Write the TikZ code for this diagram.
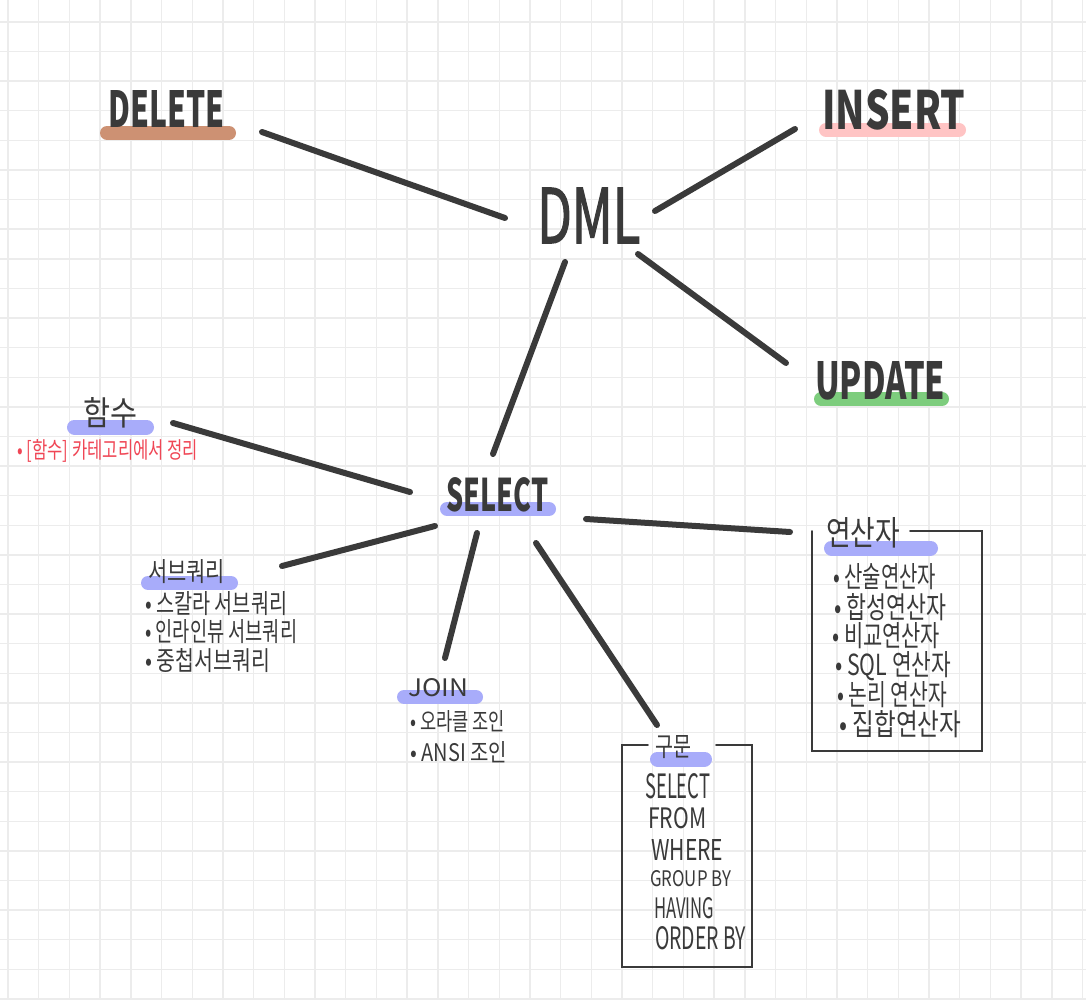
\documentclass[tikz,border=0pt]{standalone}
\usepackage{fontspec}
\setmainfont{Noto Sans CJK KR}
\newfontfamily\dmlfont[FakeBold=2]{Noto Sans CJK KR}
\definecolor{ink}{RGB}{58,58,58}
\definecolor{gridc}{RGB}{236,236,236}
\definecolor{hlbrown}{RGB}{205,145,115}
\definecolor{hlpink}{RGB}{255,196,196}
\definecolor{hlgreen}{RGB}{125,205,125}
\definecolor{hlblue}{RGB}{168,172,250}
\definecolor{redtxt}{RGB}{240,70,85}
\newcommand\hwtext[3]{\resizebox{#1pt}{#2pt}{#3}}
\begin{document}
\begin{tikzpicture}[x=1pt,y=-1pt,
  conn/.style={line width=6pt, draw=ink, line cap=round},
  hl/.style={line width=14pt, line cap=round},
  lbl/.style={inner sep=0pt, anchor=west, text=ink},
  boxline/.style={line width=1.8pt, draw=ink, line cap=round}]
\useasboundingbox[fill=white] (0,0) rectangle (1086,1000);
% grid
\foreach \i in {0,...,35} \draw[gridc, line width=1.4pt] ({8+30.7*\i},0) -- ({8+30.7*\i},1000);
\foreach \j in {0,...,33} \draw[gridc, line width=1.4pt] (0,{22+29.6*\j}) -- (1086,{22+29.6*\j});

% highlight bars
\draw[hl, hlbrown] (107,133) -- (229,133);
\draw[hl, hlpink] (826,130) -- (959,130);
\draw[hl, hlgreen] (821,399) -- (942,399);
\draw[hl, hlblue] (447,509) -- (549,509);
\draw[hl, hlblue, line width=15pt] (74.5,427) -- (146.5,427);
\draw[hl, hlblue] (148,583) -- (231,583);
\draw[hl, hlblue] (404,697) -- (476,697);
\draw[hl, hlblue, line width=15pt] (657.5,759) -- (704.5,759);
\draw[hl, hlblue, line width=15pt] (831.5,548) -- (930.5,548);

% main nodes
\node[lbl] (dml) at (537,215.5) {\hwtext{103}{55}{\dmlfont DML}};
\node[lbl] (delete) at (108,109) {\hwtext{116}{37}{\bfseries DELETE}};
\node[lbl] (insert) at (822,110) {\hwtext{143}{40}{\bfseries INSERT}};
\node[lbl] (update) at (815,381) {\hwtext{130}{38}{\bfseries UPDATE}};
\node[lbl] (select) at (446,495) {\hwtext{102}{34}{\bfseries SELECT}};

% 함수
\node[lbl] (func) at (83,413) {\hwtext{54}{28}{함수}};
\node[lbl, text=redtxt] (funcnote) at (17,451) {\hwtext{181}{19}{• [함수] 카테고리에서 정리}};

% 서브쿼리
\node[lbl] (sub) at (148,572) {\hwtext{77}{22}{서브쿼리}};
\node[lbl] (sub1) at (145,604) {\hwtext{142}{22}{• 스칼라 서브쿼리}};
\node[lbl] (sub2) at (145,632) {\hwtext{152}{22}{• 인라인뷰 서브쿼리}};
\node[lbl] (sub3) at (145,661) {\hwtext{125}{22}{• 중첩서브쿼리}};

% JOIN
\node[lbl] (join) at (408,688) {\hwtext{60}{18}{JOIN}};
\node[lbl] (join1) at (410,721) {\hwtext{95}{20}{• 오라클 조인}};
\node[lbl] (join2) at (410,752) {\hwtext{97}{20}{• ANSI 조인}};

% 구문
\node[lbl] (syn) at (655,747) {\hwtext{36}{21}{구문}};
\node[lbl] (syn1) at (645,786) {\hwtext{65}{25}{SELECT}};
\node[lbl] (syn2) at (648,818) {\hwtext{58}{21}{FROM}};
\node[lbl] (syn3) at (651,850) {\hwtext{72}{21}{WHERE}};
\node[lbl] (syn4) at (650,879) {\hwtext{81}{16}{GROUP BY}};
\node[lbl] (syn5) at (654,908) {\hwtext{60}{21}{HAVING}};
\node[lbl] (syn6) at (655,938) {\hwtext{91}{23}{ORDER BY}};
\draw[boxline] (648,745) -- (622,745) -- (622,967) -- (752,967) -- (752,745) -- (716,745);

% 연산자
\node[lbl] (op) at (826,533) {\hwtext{74}{28}{연산자}};
\node[lbl] (op1) at (833,577) {\hwtext{103}{24}{• 산술연산자}};
\node[lbl] (op2) at (834,607) {\hwtext{112}{25}{• 합성연산자}};
\node[lbl] (op3) at (832,636) {\hwtext{108}{24}{• 비교연산자}};
\node[lbl] (op4) at (835,666) {\hwtext{116}{24}{• SQL 연산자}};
\node[lbl] (op5) at (837,695) {\hwtext{110}{24}{• 논리 연산자}};
\node[lbl] (op6) at (839,724) {\hwtext{122}{25}{• 집합연산자}};
\draw[boxline] (910,531) -- (982,531) -- (982,751) -- (812,751) -- (812,531);

% connector end points
\coordinate (dml-w) at (505,218);
\coordinate (del-e) at (262,132);
\coordinate (dml-ne) at (655,211);
\coordinate (ins-w) at (795,129);
\coordinate (dml-se) at (638,254);
\coordinate (upd-w) at (786,363);
\coordinate (dml-s) at (565,262);
\coordinate (sel-n) at (493,454);
\coordinate (func-e) at (173,423);
\coordinate (sel-w) at (410,492);
\coordinate (sub-e) at (282,566);
\coordinate (sel-sw) at (435,526);
\coordinate (sel-s) at (477,533);
\coordinate (join-n) at (445,658);
\coordinate (sel-se) at (536,543);
\coordinate (syn-n) at (657,725);
\coordinate (sel-e) at (586,519);
\coordinate (op-w) at (790,532);

\draw[conn] (del-e) -- (dml-w);
\draw[conn] (dml-ne) -- (ins-w);
\draw[conn] (dml-se) -- (upd-w);
\draw[conn] (dml-s) -- (sel-n);
\draw[conn] (func-e) -- (sel-w);
\draw[conn] (sub-e) -- (sel-sw);
\draw[conn] (sel-s) -- (join-n);
\draw[conn] (sel-se) -- (syn-n);
\draw[conn] (sel-e) -- (op-w);
\end{tikzpicture}
\end{document}
